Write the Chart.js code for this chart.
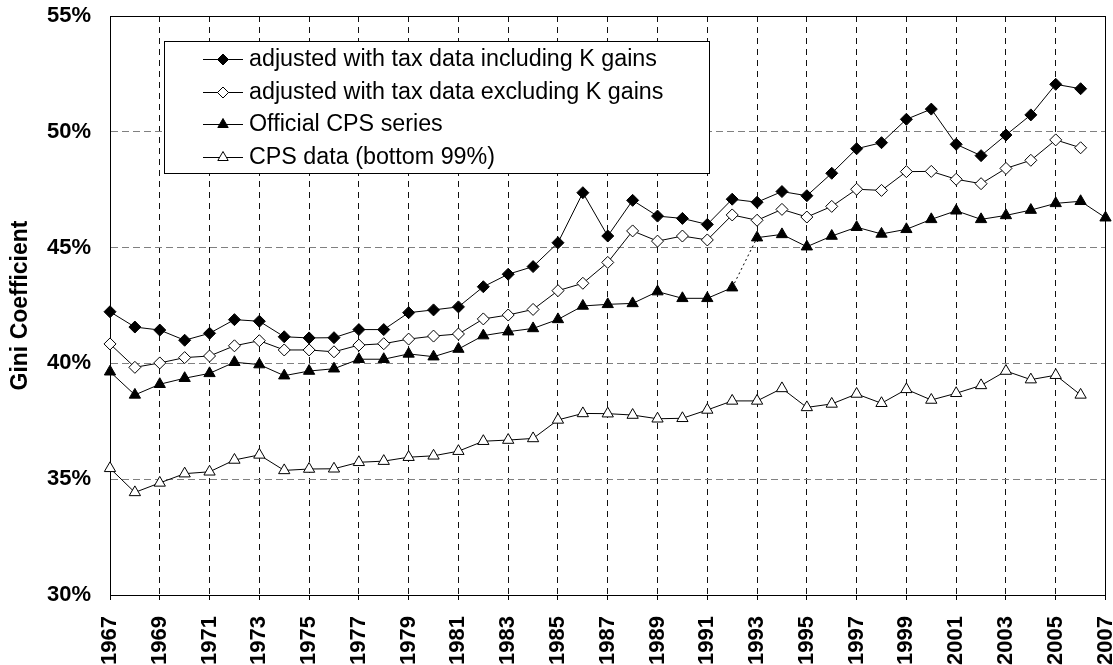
<!DOCTYPE html>
<html>
<head>
<meta charset="utf-8">
<script src="https://cdn.jsdelivr.net/npm/chart.js@4"></script>
<style>
  html, body { margin: 0; padding: 0; background: #fff; overflow: hidden; }
  #wrap { width: 1113px; height: 665px; }
</style>
</head>
<body>
<div id="wrap"><canvas id="gini"></canvas></div>
<script>
// Gini coefficient (%), 1967-2007
const years = [1967, 1968, 1969, 1970, 1971, 1972, 1973, 1974, 1975, 1976,
  1977, 1978, 1979, 1980, 1981, 1982, 1983, 1984, 1985, 1986,
  1987, 1988, 1989, 1990, 1991, 1992, 1993, 1994, 1995, 1996,
  1997, 1998, 1999, 2000, 2001, 2002, 2003, 2004, 2005, 2006, 2007];

const inclKGains = [42.23, 41.57, 41.44, 41.00, 41.30, 41.89, 41.82, 41.15, 41.10, 41.11,
  41.46, 41.46, 42.19, 42.31, 42.44, 43.31, 43.85, 44.18, 45.21, 47.37,
  45.50, 47.04, 46.36, 46.26, 46.00, 47.09, 46.96, 47.42, 47.24, 48.21,
  49.27, 49.53, 50.54, 50.98, 49.46, 48.97, 49.86, 50.73, 52.05, 51.86, null];

const exclKGains = [40.84, 39.83, 40.02, 40.25, 40.32, 40.76, 40.98, 40.58, 40.58, 40.50,
  40.79, 40.85, 41.05, 41.18, 41.27, 41.92, 42.09, 42.33, 43.14, 43.46,
  44.36, 45.72, 45.28, 45.50, 45.33, 46.41, 46.18, 46.65, 46.32, 46.78,
  47.52, 47.47, 48.28, 48.29, 47.95, 47.76, 48.42, 48.77, 49.65, 49.31, null];

const officialCps = [39.64, 38.64, 39.10, 39.36, 39.57, 40.05, 39.95, 39.47, 39.67, 39.77,
  40.18, 40.18, 40.41, 40.29, 40.62, 41.20, 41.37, 41.51, 41.90, 42.48,
  42.55, 42.59, 43.10, 42.81, 42.81, 43.27, 45.43, 45.57, 45.04, 45.50,
  45.88, 45.59, 45.79, 46.22, 46.59, 46.22, 46.39, 46.62, 46.91, 47.00, 46.29];

const cpsBottom99 = [35.47, 34.43, 34.84, 35.24, 35.32, 35.83, 36.05, 35.38, 35.44, 35.45,
  35.73, 35.78, 35.95, 36.01, 36.21, 36.64, 36.69, 36.76, 37.56, 37.84,
  37.83, 37.77, 37.61, 37.63, 37.99, 38.38, 38.38, 38.92, 38.10, 38.25,
  38.68, 38.28, 38.88, 38.42, 38.71, 39.05, 39.67, 39.30, 39.49, 38.64, null];

const seriesNames = [
  'adjusted with tax data including K gains',
  'adjusted with tax data excluding K gains',
  'Official CPS series',
  'CPS data (bottom 99%)'
];

// break in the official series (dotted link)
const breakYear = 1992;

const FONT = '"Liberation Sans", Arial, sans-serif';

function series(label, data, style, fill, radius) {
  return {
    label: label,
    data: data,
    borderColor: '#000',
    borderWidth: 1,
    pointStyle: style,
    pointRadius: radius,
    pointHoverRadius: radius,
    pointBackgroundColor: fill,
    pointBorderColor: '#000',
    pointBorderWidth: 1,
    tension: 0,
    clip: false
  };
}

// box around the plot area (top + right sides)
const frame = {
  id: 'frame',
  beforeDatasetsDraw(chart) {
    const a = chart.chartArea, ctx = chart.ctx;
    ctx.save();
    ctx.strokeStyle = '#000';
    ctx.lineWidth = 1;
    ctx.strokeRect(Math.round(a.left) + 0.5, Math.round(a.top) + 0.5,
      Math.round(a.right - a.left) - 1, Math.round(a.bottom - a.top));
    ctx.restore();
  }
};

// legend drawn as a framed box inside the plot
const boxLegend = {
  id: 'boxLegend',
  afterDraw(chart) {
    const ctx = chart.ctx;
    ctx.save();
    ctx.fillStyle = '#fff';
    ctx.fillRect(164, 41, 545, 132);
    ctx.strokeStyle = '#000';
    ctx.lineWidth = 1;
    ctx.setLineDash([]);
    ctx.strokeRect(164.5, 41.5, 545, 132);
    chart.data.datasets.forEach((ds, i) => {
      const y = Math.round(59 + i * 32.7);
      ctx.strokeStyle = '#000';
      ctx.lineWidth = 1;
      ctx.beginPath();
      ctx.moveTo(203, y + 0.5);
      ctx.lineTo(243, y + 0.5);
      ctx.stroke();
      ctx.fillStyle = ds.pointBackgroundColor;
      Chart.helpers.drawPoint(ctx, {
        pointStyle: ds.pointStyle, radius: ds.pointRadius - 0.5, rotation: 0, borderWidth: 1
      }, 223, y + 0.5);
      ctx.fillStyle = '#000';
      ctx.font = '23.3px ' + FONT;
      ctx.textBaseline = 'middle';
      ctx.textAlign = 'left';
      ctx.fillText(ds.label, 249, y + 1);
    });
    ctx.restore();
  }
};

new Chart(document.getElementById('gini'), {
  type: 'line',
  data: {
    labels: years,
    datasets: [
      series(seriesNames[0], inclKGains, 'rectRot', '#000', 6),
      series(seriesNames[1], exclKGains, 'rectRot', '#fff', 6),
      Object.assign(series(seriesNames[2], officialCps, 'triangle', '#000', 6.5), {
        segment: {
          borderDash: c => c.p0.parsed.x === breakYear ? [2, 3] : undefined
        }
      }),
      series(seriesNames[3], cpsBottom99, 'triangle', '#fff', 6.5)
    ]
  },
  options: {
    responsive: true,
    maintainAspectRatio: false,
    animation: false,
    layout: { padding: { top: 16, right: 1, left: 0, bottom: 0 } },
    plugins: {
      legend: { display: false },
      tooltip: { enabled: false }
    },
    scales: {
      x: {
        type: 'linear',
        min: 1967,
        max: 2007,
        afterFit(s) {
          s.height = 70;
          s.paddingLeft = 0;
          s.paddingRight = 0;
        },
        ticks: {
          stepSize: 2,
          autoSkip: false,
          minRotation: 90,
          maxRotation: 90,
          padding: 16,
          color: '#000',
          font: { family: FONT, size: 22, weight: 'bold' },
          callback: v => String(v)
        },
        grid: {
          color: '#111',
          lineWidth: 1,
          tickLength: 5,
          tickColor: '#000',
          tickBorderDash: []
        },
        border: { color: '#000', width: 1, dash: [6, 5] }
      },
      y: {
        min: 30,
        max: 55,
        afterFit(s) {
          s.width = 110;
          s.paddingTop = 0;
          s.paddingBottom = 0;
        },
        ticks: {
          stepSize: 5,
          padding: 19,
          color: '#000',
          font: { family: FONT, size: 22, weight: 'bold' },
          callback: v => v + '%'
        },
        grid: {
          color: '#808080',
          lineWidth: 1,
          drawTicks: false
        },
        border: { color: '#000', width: 1, dash: [7, 4] },
        title: {
          display: true,
          text: 'Gini Coefficient',
          color: '#000',
          font: { family: FONT, size: 23, weight: 'bold' },
          padding: { top: 7, bottom: 0 }
        }
      }
    }
  },
  plugins: [frame, boxLegend]
});
</script>
</body>
</html>
